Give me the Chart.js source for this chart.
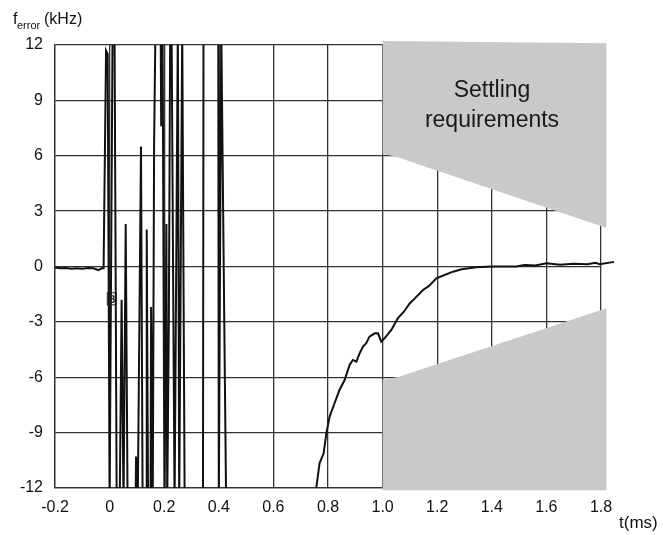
<!DOCTYPE html>
<html>
<head>
<meta charset="utf-8">
<script src="https://cdn.jsdelivr.net/npm/chart.js@4.4.0/dist/chart.umd.min.js"></script>
<style>
  html, body { margin: 0; padding: 0; background: #fff; }
  #wrap { width: 663px; height: 535px; }
</style>
</head>
<body>
<div id="wrap"><canvas id="chart" width="663" height="535"></canvas></div>
<script>
// ---- frequency error trace (t in ms, f in kHz) ----
// before the hop
const preT = [-0.2, -0.18, -0.16, -0.14, -0.12, -0.1, -0.08, -0.06, -0.05, -0.04, -0.03, -0.022];
const preF = [-0.05, -0.1, -0.08, -0.12, -0.1, -0.12, -0.08, -0.1, -0.15, -0.2, -0.1, -0.1];

// the burst right after the hop (±13 = off scale)
const burstT = [-0.013, -0.007, 0.0, 0.011, 0.018, 0.026, 0.037, 0.044, 0.051, 0.059, 0.066,
  0.095, 0.097, 0.103, 0.115, 0.121, 0.134, 0.136, 0.141, 0.15, 0.152, 0.158, 0.163, 0.168,
  0.187, 0.189, 0.194, 0.201, 0.208, 0.211, 0.217, 0.222, 0.227, 0.238, 0.25, 0.255, 0.266,
  0.275, 0.342, 0.344, 0.398, 0.4, 0.409, 0.427, 0.755];
const burstF = [11.7, 11.5, -13, 13, 13, -13, -13, -1.8, -13, 2.3, -13,
  -13, -10.3, -13, 6.5, -13, -13, 2.0, -13, -13, -2.2, -13, 6.6, 13,
  13, 7.6, 13, -13, 2.3, -13, -3, 13, 13, -13, 13, -13, 13,
  -13, -13, 13, 13, -13, 13, -13, -13];

// settling back to zero
const settleT = [0.757, 0.769, 0.784, 0.794, 0.806, 0.824, 0.842, 0.861, 0.879, 0.891, 0.904,
  0.916, 0.928, 0.94, 0.952, 0.971, 0.983, 0.995, 1.007, 1.032, 1.056, 1.078, 1.099, 1.12,
  1.148, 1.17, 1.197, 1.22, 1.258, 1.29, 1.343, 1.4, 1.49, 1.52, 1.56, 1.6, 1.65, 1.7,
  1.75, 1.78, 1.795, 1.848];
const settleF = [-12.0, -10.66, -10.12, -9.03, -8.13, -7.41, -6.69, -6.15, -5.33, -5.06, -5.15,
  -4.7, -4.34, -4.16, -3.8, -3.62, -3.62, -4.07, -3.89, -3.44, -2.8, -2.45, -2.0, -1.7,
  -1.27, -1.05, -0.64, -0.5, -0.28, -0.15, -0.04, 0.0, 0.0, 0.08, 0.05, 0.18, 0.1, 0.15,
  0.12, 0.2, 0.12, 0.25];

// ---- settling requirement mask (polygons) ----
const maskUpT = [1.0, 1.82, 1.82, 1.05, 1.0];
const maskUpF = [12.22, 12.09, 2.09, 5.95, 6.1];
const maskLoT = [1.0, 1.06, 1.82, 1.82, 1.0];
const maskLoF = [-6.15, -5.97, -2.26, -12.12, -12.12];

// ---- axis ticks ----
const xMin = -0.2, xMax = 1.8, xStep = 0.2;
const yMin = -12, yMax = 12, yStep = 3;

function toPoints(ts, fs) {
  return ts.map((t, i) => ({ x: t, y: fs[i] }));
}

const trace = toPoints(preT, preF)
  .concat(toPoints(burstT, burstF))
  .concat(toPoints(settleT, settleF));

const FONT = "'Liberation Sans', Arial, sans-serif";
const gridColor = "#333";
const maskColor = "#c9c9c9";

// gray mask areas, drawn over the grid but under the trace
const maskPlugin = {
  id: "mask",
  beforeDatasetsDraw(chart) {
    const ctx = chart.ctx;
    const xs = chart.scales.x, ys = chart.scales.y;
    ctx.save();
    ctx.fillStyle = maskColor;
    [[maskUpT, maskUpF], [maskLoT, maskLoF]].forEach(([ts, fs]) => {
      ctx.beginPath();
      ts.forEach((t, i) => {
        const px = xs.getPixelForValue(t), py = ys.getPixelForValue(fs[i]);
        if (i === 0) ctx.moveTo(px, py);
        else ctx.lineTo(px, py);
      });
      ctx.closePath();
      ctx.fill();
    });
    ctx.restore();
  }
};

// texte: axis titles, mask label, scope marker
const labelsPlugin = {
  id: "labels",
  afterDraw(chart) {
    const ctx = chart.ctx;
    const xs = chart.scales.x, ys = chart.scales.y;
    ctx.save();
    ctx.fillStyle = "#111";
    ctx.textBaseline = "alphabetic";

    // y title: f_error (kHz)
    ctx.textAlign = "left";
    ctx.font = "16px " + FONT;
    ctx.fillText("f", 13, 24);
    ctx.font = "11px " + FONT;
    ctx.fillText("error", 17, 29);
    ctx.font = "16px " + FONT;
    ctx.fillText("(kHz)", 44, 24);

    // x title
    ctx.font = "17px " + FONT;
    ctx.fillText("t(ms)", 619, 528);

    // mask label
    ctx.textAlign = "center";
    ctx.font = "23px " + FONT;
    ctx.fillStyle = "#1a1a1a";
    ctx.fillText("Settling", 492, 97);
    ctx.fillText("requirements", 492, 127);

    // marker B
    const bx = xs.getPixelForValue(0.008), by = ys.getPixelForValue(-1.75);
    ctx.font = "bold 10px " + FONT;
    ctx.fillStyle = "#222";
    ctx.fillText("B", bx, by + 4);
    ctx.strokeStyle = "#222";
    ctx.lineWidth = 1;
    ctx.strokeRect(bx - 4.5, by - 6, 9, 12);
    ctx.restore();
  }
};

new Chart(document.getElementById("chart"), {
  type: "line",
  data: {
    datasets: [
      {
        label: "f error",
        data: trace,
        borderColor: "#111",
        borderWidth: 2,
        pointRadius: 0,
        tension: 0,
        fill: false,
        // let the tail run a little past the last grid line
        clip: { left: 0, top: 0, right: 20, bottom: 0 },
      },
    ],
  },
  options: {
    responsive: false,
    animation: false,
    devicePixelRatio: 1,
    layout: { padding: { top: 45, right: 62, bottom: 0, left: 0 } },
    plugins: {
      legend: { display: false },
      tooltip: { enabled: false },
    },
    scales: {
      x: {
        type: "linear",
        min: xMin,
        max: xMax,
        afterFit: (s) => { s.height = 47; },
        ticks: {
          stepSize: xStep,
          padding: 10,
          color: "#111",
          font: { family: FONT, size: 16 },
          maxRotation: 0,
          callback: (v) => (Math.abs(v) < 1e-9 ? "0" : Number(v).toFixed(1)),
        },
        grid: { color: gridColor, lineWidth: 1.3, drawTicks: false },
        border: { display: true, color: gridColor, width: 1.3 },
      },
      y: {
        min: yMin,
        max: yMax,
        afterFit: (s) => { s.width = 55; },
        ticks: {
          stepSize: yStep,
          padding: 12,
          color: "#111",
          font: { family: FONT, size: 16 },
        },
        grid: { color: gridColor, lineWidth: 1.3, drawTicks: false },
        border: { display: true, color: gridColor, width: 1.3 },
      },
    },
  },
  plugins: [maskPlugin, labelsPlugin],
});
</script>
</body>
</html>
